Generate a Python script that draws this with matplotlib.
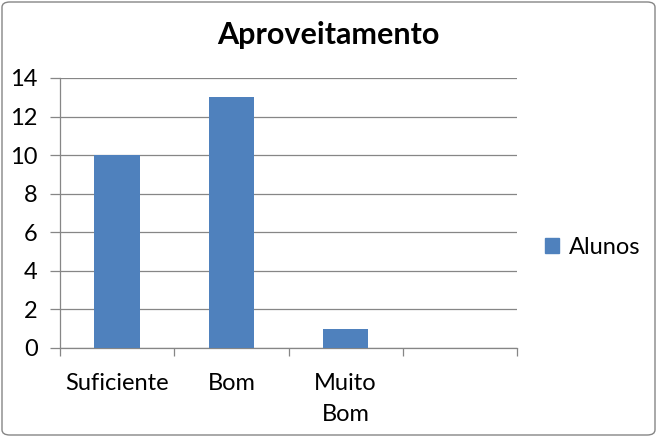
import matplotlib
matplotlib.use("Agg")
import matplotlib.pyplot as plt
from matplotlib.patches import FancyBboxPatch, Patch

categories = ["Suficiente", "Bom", "Muito\nBom", ""]
values = [10, 13, 1, None]
yticks = [0, 2, 4, 6, 8, 10, 12, 14]
title = "Aproveitamento"
series_name = "Alunos"

plt.rcParams['font.family'] = ['Lato', 'DejaVu Sans']

W, H = 657, 437
fig = plt.figure(figsize=(W/100, H/100), dpi=100)
ax = fig.add_axes([60/W, 1-348/H, (517-60)/W, (348-78)/H])

xs = list(range(len(categories)))
plot_x = [x for x, v in zip(xs, values) if v is not None]
plot_v = [v for v in values if v is not None]
ax.bar(plot_x, plot_v, width=0.4, color="#4F81BD", zorder=3)

ax.set_xlim(-0.5, len(categories) - 0.5)
ax.set_ylim(0, 14)
ax.set_yticks(yticks)
ax.yaxis.grid(True, color="#868686", linewidth=0.9, zorder=0)
ax.set_xticks([x + 0.5 for x in [-1] + xs])
ax.set_xticklabels([])
ax.set_xticks(xs, minor=True)
ax.set_xticklabels(categories, minor=True, fontsize=17, linespacing=1.6)
ax.tick_params(axis='x', which='minor', length=0, pad=18)
ax.tick_params(axis='x', which='major', length=6, color="#868686", width=0.9)
ax.tick_params(axis='y', length=7, color="#868686", width=0.9, labelsize=17, pad=9)
for s in ["top", "right"]:
    ax.spines[s].set_visible(False)
for s in ["left", "bottom"]:
    ax.spines[s].set_color("#868686")
    ax.spines[s].set_linewidth(0.9)

fig.text(328/W, 1-35/H, title, ha='center', va='center', fontsize=22, fontweight='bold')

ax.legend(handles=[Patch(color="#4F81BD", label=series_name)], loc='center left',
          bbox_to_anchor=((524-60)/(517-60), 0.5 - (247-213)/(348-78)), frameon=False,
          fontsize=17, handlelength=0.6, handleheight=0.6, handletextpad=0.4)

border = FancyBboxPatch((2/W, 2/H), (W-4)/W, (H-4)/H, boxstyle="round,pad=0,rounding_size=0.012",
                        transform=fig.transFigure, fill=False, edgecolor="#868686", linewidth=1)
fig.patches.append(border)

fig.savefig("out.png", dpi=100)
